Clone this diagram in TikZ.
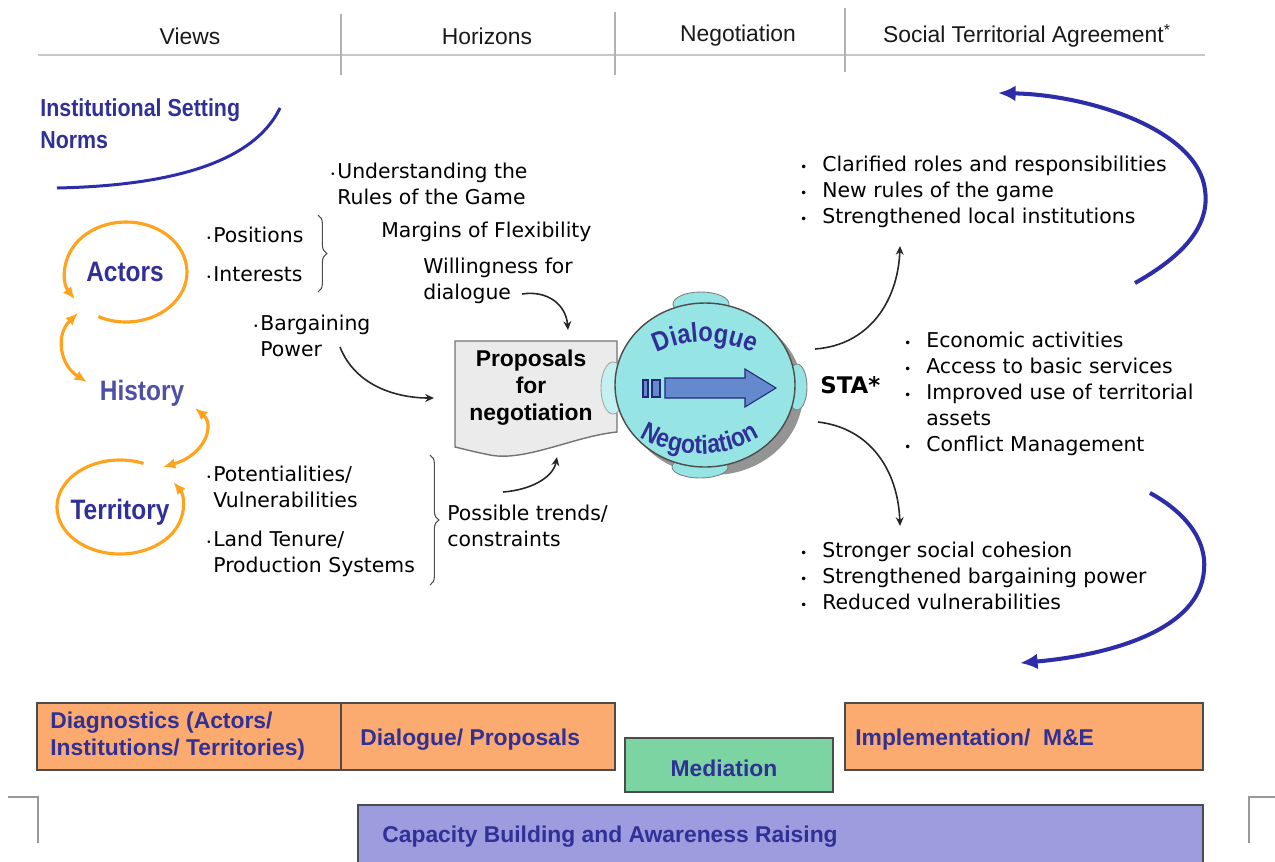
\documentclass[tikz,border=0pt]{standalone}
\usepackage{fontspec}
\setmainfont{Liberation Sans}
\newfontfamily\verdana{DejaVu Sans}
\newfontfamily\narrowbf[FakeStretch=0.87]{Liberation Sans Bold}
\usetikzlibrary{
    arrows.meta,
    positioning,
    shapes.geometric,
    decorations.text,
    decorations.pathreplacing
}
\definecolor{lblblue}{RGB}{48,48,150}
\definecolor{arcblue}{RGB}{45,45,170}
\definecolor{cycorange}{RGB}{255,163,30}
\definecolor{boxorange}{RGB}{251,170,112}
\definecolor{boxgreen}{RGB}{124,212,162}
\definecolor{boxpurple}{RGB}{156,156,222}
\definecolor{dialcyan}{RGB}{150,228,228}
\definecolor{flowblue}{RGB}{100,138,205}

\newcommand{\notedot}{\llap{\raisebox{0.1ex}{\tiny •}\hspace{1pt}}}
\newcommand{\listdot}{\llap{{\scriptsize •}\hspace{8.5pt}}}

\tikzset{
    header/.style={
        font=\fontsize{13}{15}\selectfont,
        text=black!90
    },
    note/.style={
        font=\verdana\fontsize{11.6}{14.5}\selectfont,
        align=left,
        inner sep=0pt,
        text=black
    },
    outcome/.style={
        note,
        font=\verdana\fontsize{11.6}{14.8}\selectfont
    },
    bluelabel/.style={
        font=\narrowbf\fontsize{14}{18}\selectfont,
        text=lblblue,
        align=left,
        inner sep=0pt
    },
    cyclelabel/.style={
        font=\narrowbf\fontsize{16}{19}\selectfont,
        text=lblblue,
        inner sep=0pt
    },
    phase/.style={
        draw=black!70,
        line width=0.6pt
    },
    phaselabel/.style={
        font=\bfseries\fontsize{13}{15.3}\selectfont,
        text=lblblue,
        align=left,
        inner sep=0pt
    },
    cyclearc/.style={
        draw=cycorange,
        line width=1.8pt
    },
    cycletip/.style={
        -{Latex[length=7pt,width=6pt]}
    },
    bigarc/.style={
        draw=arcblue,
        line width=2.3pt
    },
    arrow/.style={
        -{Stealth[length=5pt,width=4.5pt]},
        line width=0.9pt,
        black!85
    },
    sep/.style={
        draw=black!30,
        line width=0.8pt
    },
    bracket/.style={
        decorate,
        decoration={brace, amplitude=5pt},
        line width=0.6pt,
        black!70
    },
    ear/.style={
        fill=dialcyan,
        draw=black!50,
        line width=0.5pt
    },
    flow/.style={
        fill=flowblue,
        draw=lblblue!80!black,
        line width=0.6pt
    }
}

\begin{document}
\begin{tikzpicture}[x=0.2mm, y=-0.2mm]
\useasboundingbox (0,0) rectangle (1275,861);

% column headers
\node[header] (views) at (190,36) {Views};
\node[header] (horizons) at (487,36) {Horizons};
\node[header] (negotiation) at (738,36) {Negotiation};
\node[header] (agreement) at (1027,36) {Social Territorial Agreement\textsuperscript{*}};
\draw[sep, line width=1.6pt, black!22] (38,55) -- (1205,55);
\draw[sep] (341,14) -- (341,75);
\draw[sep] (615,12) -- (615,75);
\draw[sep] (845,8) -- (845,72);

% institutional setting
\node[bluelabel, anchor=west] (inst) at (40,124) {Institutional Setting\\Norms};
\draw[bigarc, line width=1.7pt] (280,108) .. controls (250,170) and (150,186) .. (57,188);

% actors - history - territory
\node[cyclelabel] (actors) at (125,272) {Actors};
\node[cyclelabel, text=lblblue!85] (history) at (142,393) {History};
\node[cyclelabel] (territory) at (120,512) {Territory};
\coordinate (actc) at (126,272);
\coordinate (terc) at (120,507);
\draw[cyclearc, cycletip] ([shift={(117:61 and 50)}]actc) arc[start angle=117, end angle=-213, x radius=61, y radius=50];
\draw[cyclearc, cycletip] ([shift={(-68:63 and 47)}]terc) arc[start angle=-68, end angle=-392, x radius=63, y radius=47];
\coordinate (acthi) at (78,313);
\coordinate (hiact) at (87,382);
\coordinate (hiter) at (195,408);
\coordinate (terhi) at (163,467);
\draw[cyclearc, {Latex[length=7pt,width=6pt]}-{Latex[length=7pt,width=6pt]}] (acthi) .. controls (55,335) and (60,365) .. (hiact);
\draw[cyclearc, {Latex[length=7pt,width=6pt]}-{Latex[length=7pt,width=6pt]}] (hiter) .. controls (215,425) and (205,455) .. (terhi);

% views and horizons notes
\node[note, anchor=west] (rules) at (337,184) {\notedot Understanding the\\Rules of the Game};
\node[note, anchor=west] (positions) at (213,235) {\notedot Positions};
\node[note, anchor=west] (interests) at (213,274) {\notedot Interests};
\draw[bracket] (318,215) -- (318,292);
\node[note, anchor=west] (margins) at (381,232) {Margins of Flexibility};
\node[note, anchor=west] (willing) at (423,281) {Willingness for\\dialogue};
\node[note, anchor=west] (bargain) at (260,336) {\notedot Bargaining\\Power};
\node[note, anchor=west] (potential) at (213,487) {\notedot Potentialities/\\Vulnerabilities};
\node[note, anchor=west] (tenure) at (213,554) {\notedot Land Tenure/\\Production Systems};
\draw[bracket] (430,455) -- (430,585);
\node[note, anchor=west] (trends) at (447,526) {Possible trends/\\constraints};

% proposals sheet
\draw[fill=black!8, draw=black!55, line width=0.8pt] (455,341) -- (617,341) -- (617,432)
    .. controls (575,436) and (525,462) .. (490,455)
    .. controls (470,451) and (460,448) .. (455,447) -- cycle;
\node[font=\bfseries\fontsize{13}{15.3}\selectfont, align=center] (proposals) at (531,388) {Proposals\\for\\negotiation};

% dialogue / negotiation disc
\fill[black!42] (713,393) ellipse [x radius=90, y radius=82];
\draw[ear] (701,304) ellipse [x radius=28, y radius=12];
\draw[ear, fill=dialcyan!55, draw=black!35] (613,388) ellipse [x radius=12, y radius=26];
\draw[ear] (797,387) ellipse [x radius=10, y radius=23];
\draw[ear] (700,467) ellipse [x radius=28, y radius=11];
\node[ellipse, minimum width=36mm, minimum height=32.8mm, fill=dialcyan, draw=black!70, line width=0.8pt] (dial) at (705,385) {};
\path[decorate, decoration={text along path, text color=lblblue, text align=center,
    text={|\narrowbf\fontsize{15.5}{15.5}\selectfont|Dialogue}}]
    ([shift={(-125:110)}]705,452) arc[start angle=-125, end angle=-55, radius=110];
\path[decorate, decoration={text along path, text color=lblblue, text align=center,
    text={|\narrowbf\fontsize{15}{15}\selectfont|Negotiation}}]
    ([shift={(145:115)}]700,339) arc[start angle=145, end angle=35, radius=115];
\draw[flow] (665,378) -- (745,378) -- (745,369) -- (776,388) -- (745,407) -- (745,398) -- (665,398) -- cycle;
\draw[flow] (643,380) rectangle (648,397);
\draw[flow] (652,380) rectangle (660,397);

% arrows into the proposals
\coordinate (dlgend) at (522,294);
\coordinate (sheettop) at (568,330);
\coordinate (powend) at (340,347);
\coordinate (sheetleft) at (434,398);
\coordinate (trendend) at (503,492);
\coordinate (sheetbot) at (557,457);
\draw[arrow] (dlgend) .. controls (548,290) and (566,305) .. (sheettop);
\draw[arrow] (powend) .. controls (355,385) and (395,398) .. (sheetleft);
\draw[arrow] (trendend) .. controls (530,490) and (553,478) .. (sheetbot);

% agreement and its outcomes
\node[font=\verdana\bfseries\fontsize{13}{15}\selectfont, anchor=west, inner sep=0pt] (sta) at (820,385) {STA*};
\node[outcome, anchor=west] (roles) at (822,192) {\listdot Clarified roles and responsibilities\\\listdot New rules of the game\\\listdot Strengthened local institutions};
\node[outcome, anchor=west] (assets) at (926,394) {\listdot Economic activities\\\listdot Access to basic services\\\listdot Improved use of territorial\\assets\\\listdot Conflict Management};
\node[outcome, anchor=west] (cohesion) at (822,576) {\listdot Stronger social cohesion\\\listdot Strengthened bargaining power\\\listdot Reduced vulnerabilities};
\coordinate (staup) at (815,349);
\coordinate (stadown) at (818,422);
\coordinate (rolesin) at (900,246);
\coordinate (cohesionin) at (900,526);
\draw[arrow] (staup) .. controls (870,345) and (898,300) .. (rolesin);
\draw[arrow] (stadown) .. controls (870,428) and (898,470) .. (cohesionin);

% feedback arcs
\coordinate (fbtop) at (998,93);
\coordinate (fbbot) at (1020,663);
\draw[bigarc, -{Latex[length=10pt,width=9pt]}] (1135,283) .. controls (1185,255) and (1210,225) .. (1205,190)
    .. controls (1198,130) and (1090,95) .. (fbtop);
\draw[bigarc, -{Latex[length=10pt,width=9pt]}] (1150,493) .. controls (1185,512) and (1207,540) .. (1204,570)
    .. controls (1200,630) and (1110,655) .. (fbbot);

% phases
\draw[phase, fill=boxorange] (37,703) rectangle (341,770);
\draw[phase, fill=boxorange] (341,703) rectangle (615,770);
\draw[phase, fill=boxgreen] (625,738) rectangle (833,792);
\draw[phase, fill=boxorange] (845,703) rectangle (1203,770);
\draw[phase, fill=boxpurple] (358,805) rectangle (1203,866);
\node[phaselabel, anchor=west] (diag) at (50,736) {Diagnostics (Actors/\\Institutions/ Territories)};
\node[phaselabel, anchor=west] (dialprop) at (360,740) {Dialogue/ Proposals};
\node[phaselabel] (mediation) at (724,768) {Mediation};
\node[phaselabel, anchor=west] (implement) at (855,740) {Implementation/\ \ M\&E};
\node[phaselabel, anchor=west] (capacity) at (382,837) {Capacity Building and Awareness Raising};

% page corner marks
\draw[sep, black!40, line width=1pt] (8,797) -- (38,797) -- (38,843);
\draw[sep, black!40, line width=1pt] (1275,797) -- (1249,797) -- (1249,843);
\end{tikzpicture}
\end{document}
